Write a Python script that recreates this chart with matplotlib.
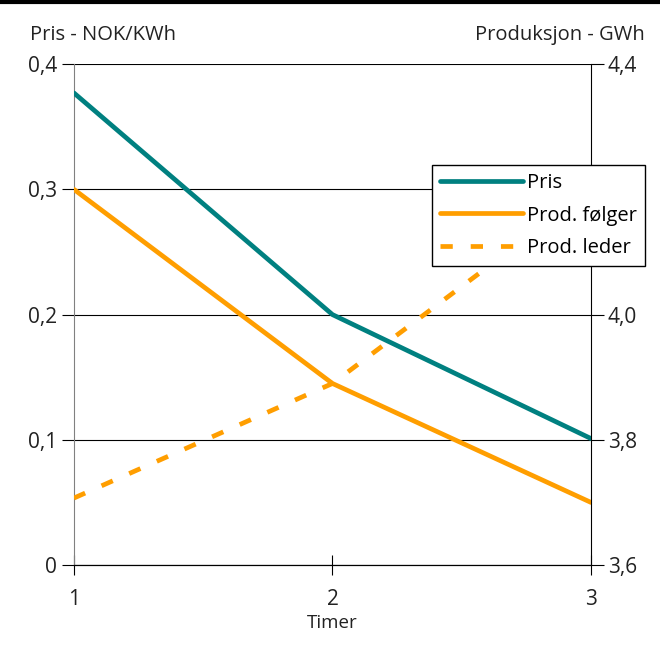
import numpy as np
import matplotlib.pyplot as plt
from matplotlib.lines import Line2D
from matplotlib.ticker import FuncFormatter

plt.rcParams['font.family'] = ['Open Sans', 'DejaVu Sans']

timer = [1, 2, 3]
pris = [0.377, 0.2, 0.101]          # venstre akse, NOK/KWh
prod_folger = [4.2, 3.89, 3.7]      # hoyre akse, GWh
prod_leder = [3.707, 3.89, 4.2]

teal = '#008080'
orange = '#FF9E00'

def komma(v, pos):
    s = '%g' % round(v, 2)
    return s.replace('.', ',')

def komma1(v, pos):
    return ('%.1f' % v).replace('.', ',')

fig = plt.figure(figsize=(6.6, 6.48), dpi=100)
ax = fig.add_axes([0.112, 0.128, 0.7835, 0.773])
ax2 = ax.twinx()

ax.set_xlim(1, 3)
ax.set_ylim(0, 0.4)
ax2.set_ylim(3.6, 4.4)

ax.set_yticks([0, 0.1, 0.2, 0.3, 0.4])
ax.yaxis.set_major_formatter(FuncFormatter(komma))
ax2.set_yticks([3.6, 3.8, 4.0, 4.2, 4.4])
ax2.yaxis.set_major_formatter(FuncFormatter(komma1))
ax.set_xticks(timer)

ax.grid(True, axis='y', color='black', linewidth=0.8)
ax.set_axisbelow(True)

l1, = ax.plot(timer, pris, color=teal, linewidth=3.4, label='Pris', zorder=3,
              solid_capstyle='round')
l2, = ax2.plot(timer, prod_folger, color=orange, linewidth=3.4, label='Prod. følger',
               solid_capstyle='round')
l3, = ax2.plot(timer, prod_leder, color=orange, linewidth=3.4, label='Prod. leder',
               dashes=(2.6, 3.8), dash_capstyle='butt')

for a in (ax, ax2):
    a.spines['top'].set_visible(False)
ax.spines['left'].set_color('#808080')
ax2.spines['left'].set_visible(False)
ax.spines['right'].set_visible(False)
ax2.spines['right'].set_color('black')
ax.spines['bottom'].set_color('black')

fs = 15
ax.tick_params(axis='y', direction='out', length=9, width=0.8, labelsize=fs, pad=3)
ax.tick_params(axis='x', direction='inout', length=14, width=0.8, labelsize=fs, pad=10)
ax2.tick_params(axis='y', direction='out', length=9, width=0.8, labelsize=fs, pad=3)
for t in ax.get_xticklabels() + ax.get_yticklabels() + ax2.get_yticklabels():
    t.set_color('#222222')

ax.set_xlabel('Timer', fontsize=13.5, color='#222222', labelpad=3)

fig.text(30/660, 1 - 35/648, 'Pris - NOK/KWh', fontsize=14.5, color='#222222',
         ha='left', va='center')
fig.text(645/660, 1 - 35/648, 'Produksjon - GWh', fontsize=14.5, color='#222222',
         ha='right', va='center')

fig.add_artist(Line2D([0, 1], [1 - 2/648, 1 - 2/648], color='black', linewidth=3))

leg = ax2.legend(handles=[l1, l2, l3], loc='upper left',
                 bbox_to_anchor=(432/660, 1 - 165/648), bbox_transform=fig.transFigure,
                 fontsize=14.5, frameon=True, fancybox=False, edgecolor='black',
                 framealpha=1, borderpad=0.4, handlelength=4.1, handletextpad=0.2,
                 labelspacing=0.62, borderaxespad=0)
leg.get_frame().set_linewidth(1)
leg.set_zorder(10)
leg.set_clip_on(False)

fig.savefig('out.png', dpi=100)
